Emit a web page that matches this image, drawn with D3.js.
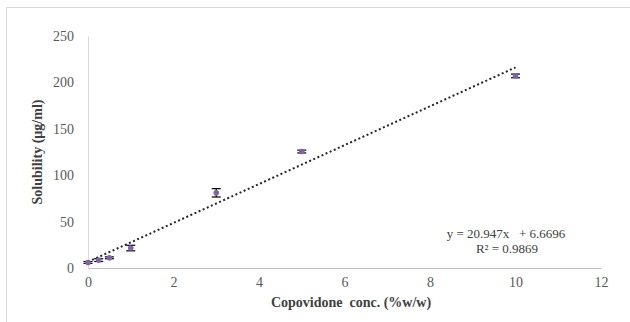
<!DOCTYPE html>
<html><head><meta charset="utf-8">
<script src="https://cdn.jsdelivr.net/npm/d3@7"></script>
<style>body{margin:0;background:#fff}svg{display:block}</style>
</head><body>
<script>
const concentrations = [0, 0.25, 0.5, 1, 3, 5, 10];
const solubility = [6, 8.5, 11, 21.5, 81, 125.5, 207];
const errors = [1, 1.5, 1, 3, 4.5, 1.5, 2];
const xTicks = [0, 2, 4, 6, 8, 10, 12];
const yTicks = [0, 50, 100, 150, 200, 250];
const slope = 20.947, intercept = 6.6696;
const eqText = "y = 20.947x   + 6.6696";
const r2Text = "R² = 0.9869";
const xTitle = "Copovidone  conc. (%w/w)";
const yTitle = "Solubility (µg/ml)";

const W = 630, H = 322;
const svg = d3.select("body").append("svg").attr("width", W).attr("height", H);
svg.append("rect").attr("x", 6.5).attr("y", 7.5).attr("width", 640).attr("height", 330)
  .attr("fill", "none").attr("stroke", "#d9d9d9");

const x = d3.scaleLinear().domain([0, 12]).range([88, 601]);
const y = d3.scaleLinear().domain([0, 250]).range([268, 36]);
const font = "'Liberation Serif','Times New Roman',serif";

const xAxis = svg.append("g").attr("transform", "translate(0,268)")
  .call(d3.axisBottom(x).tickValues(xTicks).tickSize(0).tickPadding(9));
const yAxis = svg.append("g").attr("transform", "translate(88,0)")
  .call(d3.axisLeft(y).tickValues(yTicks).tickSize(0).tickPadding(14));
[xAxis, yAxis].forEach(g => {
  g.select(".domain").attr("stroke", "#bfbfbf");
  g.selectAll("text").attr("font-family", font).attr("font-size", 14).attr("fill", "#595959");
});
yAxis.select(".domain").attr("stroke", "#d9d9d9");

// trendline
svg.append("line")
  .attr("x1", x(0)).attr("y1", y(intercept))
  .attr("x2", x(10)).attr("y2", y(slope * 10 + intercept))
  .attr("stroke", "#262626").attr("stroke-width", 2)
  .attr("stroke-dasharray", "2,2.5");

// error bars
const data = concentrations.map((c, i) => ({c, v: solubility[i], e: errors[i]}));
const eb = svg.append("g").attr("stroke", "#000").attr("stroke-width", 1.2);
data.forEach(d => {
  eb.append("line").attr("x1", x(d.c)).attr("x2", x(d.c)).attr("y1", y(d.v - d.e)).attr("y2", y(d.v + d.e));
  eb.append("line").attr("x1", x(d.c) - 4.5).attr("x2", x(d.c) + 4.5).attr("y1", y(d.v - d.e)).attr("y2", y(d.v - d.e));
  eb.append("line").attr("x1", x(d.c) - 4.5).attr("x2", x(d.c) + 4.5).attr("y1", y(d.v + d.e)).attr("y2", y(d.v + d.e));
});
svg.append("g").selectAll("circle").data(data).join("circle")
  .attr("cx", d => x(d.c)).attr("cy", d => y(d.v)).attr("r", 2.8)
  .attr("fill", "#8064a2");

// equation
svg.append("text").attr("x", 506).attr("y", 238).attr("text-anchor", "middle")
  .attr("font-family", font).attr("font-size", 13).attr("fill", "#404040")
  .style("white-space", "pre").text(eqText);
svg.append("text").attr("x", 507).attr("y", 253).attr("text-anchor", "middle")
  .attr("font-family", font).attr("font-size", 13).attr("fill", "#404040").text(r2Text);

// titles
svg.append("text").attr("x", 351).attr("y", 307).attr("text-anchor", "middle")
  .attr("font-family", font).attr("font-size", 14).attr("font-weight", "bold").attr("fill", "#404040")
  .style("white-space", "pre").text(xTitle);
svg.append("text").attr("transform", "translate(42,152) rotate(-90)").attr("text-anchor", "middle")
  .attr("font-family", font).attr("font-size", 14).attr("font-weight", "bold").attr("fill", "#404040")
  .text(yTitle);
</script>
</body></html>
